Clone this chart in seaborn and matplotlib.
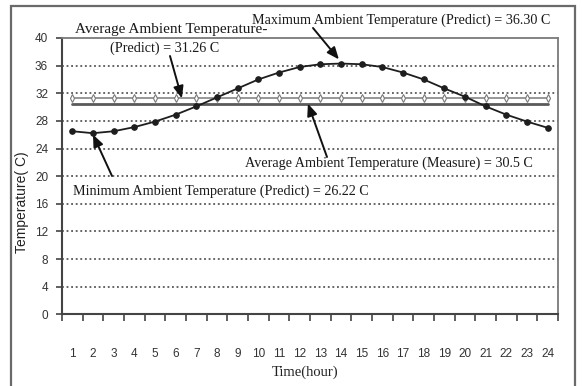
import numpy as np
import pandas as pd
import matplotlib
matplotlib.use("Agg")
import matplotlib.pyplot as plt
from matplotlib.patches import Rectangle
from matplotlib.ticker import FixedLocator, NullFormatter, FixedFormatter
import seaborn as sns

# Hourly predicted ambient temperature (C)
hours = list(range(1, 25))
temp_predict = [26.5, 26.22, 26.5, 27.1, 27.9, 28.9, 30.1, 31.4, 32.7, 34.0, 35.0, 35.8,
                36.2, 36.30, 36.2, 35.8, 35.0, 34.0, 32.7, 31.5, 30.1, 28.9, 27.9, 27.0]
avg_predict = 31.26
avg_measure = 30.5
max_predict = 36.30
min_predict = 26.22
y_ticks = [0, 4, 8, 12, 16, 20, 24, 28, 32, 36, 40]
x_tick_labels = [str(h) for h in hours]

df = pd.DataFrame({
    "hour": hours,
    "predict": temp_predict,
    "avg_predict": [avg_predict] * len(hours),
    "avg_measure": [avg_measure] * len(hours),
})

sns.set_theme(style="white")
plt.rcParams["font.family"] = ["Liberation Serif", "DejaVu Serif"]

W, H = 582, 386
fig = plt.figure(figsize=(W / 100, H / 100), dpi=100)
fig.patch.set_facecolor("white")

# outer frame around the whole chart
fig.patches.append(Rectangle((11, -20), 564, H - 6 + 20, transform=None,
                             fill=False, edgecolor="#6a6a6a", lw=1.6))

left, right, top, bottom = 62, 558, 38, 314.3
ax = fig.add_axes([left / W, (H - bottom) / H, (right - left) / W, (bottom - top) / H])
ax.set_facecolor("white")

# dotted horizontal gridlines
for yv in y_ticks[1:-1]:
    ax.axhline(yv, color="#3a3a3a", lw=1.1, ls=(0, (1.2, 1.8)), zorder=1)

# average lines
sns.lineplot(data=df, x="hour", y="avg_measure", ax=ax, color="#5a5a5a", lw=2.0, zorder=2)
sns.lineplot(data=df, x="hour", y="avg_predict", ax=ax, color="#8f8f8f", lw=1.3,
             marker="d", markersize=3.8, markerfacecolor="white",
             markeredgecolor="#7a7a7a", markeredgewidth=0.8, zorder=3)
# predicted hourly temperature
sns.lineplot(data=df, x="hour", y="predict", ax=ax, color="#1e1e1e", lw=1.3,
             marker="o", markersize=4, markerfacecolor="#1e1e1e",
             markeredgecolor="#1e1e1e", zorder=4)

ax.set_xlim(0.5, 24.5)
ax.set_ylim(0, 40)
ax.set_xlabel("")
ax.set_ylabel("")

# category ticks between hours, labels centred on each hour
ax.xaxis.set_major_locator(FixedLocator(np.arange(0.5, 25, 1)))
ax.xaxis.set_major_formatter(NullFormatter())
ax.xaxis.set_minor_locator(FixedLocator(hours))
ax.xaxis.set_minor_formatter(FixedFormatter(x_tick_labels))
ax.tick_params(axis="x", which="major", direction="out", length=5, width=1.2,
               color="#444444", bottom=True)
ax.tick_params(axis="x", which="minor", length=0, pad=24, labelsize=8.5,
               labelcolor="#333333", bottom=True)
ax.set_yticks(y_ticks)
ax.tick_params(axis="y", direction="out", length=4, width=1.2, color="#444444",
               labelsize=8.5, labelcolor="#333333", left=True, pad=6)
for lab in ax.get_xticklabels(minor=True) + ax.get_yticklabels():
    lab.set_family(["Liberation Sans", "DejaVu Sans"])

for side in ["left", "bottom"]:
    ax.spines[side].set_color("#444444")
    ax.spines[side].set_linewidth(1.5)
for side in ["top", "right"]:
    ax.spines[side].set_color("#7a7a7a")
    ax.spines[side].set_linewidth(1.3)

# axis titles
fig.text(305 / W, (H - 372) / H, "Time(hour)", ha="center", va="center", fontsize=10.5,
         color="#222222")
fig.text(22 / W, (H - 202) / H, "Temperature( C)", ha="center", va="center",
         rotation=90, fontsize=10, color="#222222",
         family=["Liberation Sans", "DejaVu Sans"])

def fy(py):
    return H - py

arrow = dict(arrowstyle="-|>,head_length=0.6,head_width=0.25", color="#111111", lw=1.4,
             shrinkA=0, shrinkB=0)
txt = dict(fontsize=10.2, color="#1a1a1a", va="center", ha="left")

fig.text(75 / W, fy(29) / H, "Average Ambient Temperature-",
         **{**txt, "fontsize": 11.0})
fig.text(110 / W, fy(48) / H, "(Predict) = %.2f C" % avg_predict, **txt)
ax.annotate("", xy=(6.3, avg_predict), xycoords="data",
            xytext=(170, fy(56)), textcoords="figure pixels", arrowprops=arrow)

fig.text(252 / W, fy(20) / H, "Maximum Ambient Temperature (Predict) = %.2f C" % max_predict, **txt)
ax.annotate("", xy=(13.9, max_predict + 0.6), xycoords="data",
            xytext=(313, fy(28)), textcoords="figure pixels", arrowprops=arrow)

fig.text(245 / W, fy(163) / H, "Average Ambient Temperature (Measure) = %.1f C" % avg_measure, **txt)
ax.annotate("", xy=(12.4, avg_measure), xycoords="data",
            xytext=(327, fy(157)), textcoords="figure pixels", arrowprops=arrow)

fig.text(73 / W, fy(191) / H, "Minimum Ambient Temperature (Predict) = %.2f C" % min_predict, **txt)
ax.annotate("", xy=(2.0, min_predict - 0.2), xycoords="data",
            xytext=(112, fy(176)), textcoords="figure pixels", arrowprops=arrow)

fig.savefig("out.png", dpi=100, facecolor="white")
